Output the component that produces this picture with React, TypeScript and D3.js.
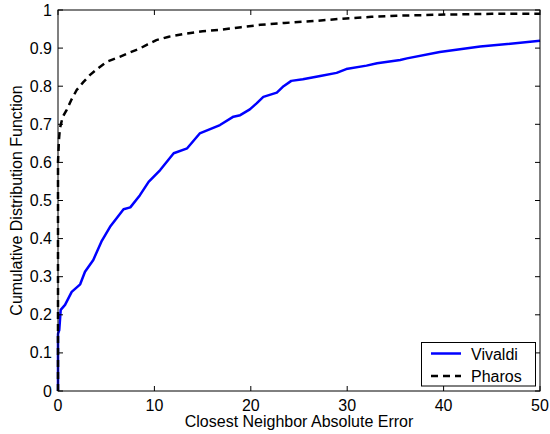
import * as d3 from "d3";

const vivaldiX = [0, 0, 0.13, 0.28, 0.73, 1.42, 2.3, 2.8, 3.66, 4.5, 5.4, 6.8, 7.5, 8.5, 9.4, 10.6, 12.0, 13.4, 14.7, 16.8, 18.2, 18.9, 19.9, 20.6, 21.3, 22.7, 23.4, 24.2, 25.4, 27.2, 28.9, 29.9, 32.0, 33.1, 35.5, 36.2, 39.6, 43.8, 50];
const vivaldiY = [0, 0.15, 0.16, 0.213, 0.226, 0.26, 0.28, 0.313, 0.344, 0.392, 0.431, 0.477, 0.482, 0.514, 0.549, 0.58, 0.624, 0.637, 0.676, 0.698, 0.72, 0.724, 0.739, 0.755, 0.772, 0.783, 0.8, 0.814, 0.818, 0.827, 0.835, 0.845, 0.854, 0.86, 0.869, 0.873, 0.89, 0.904, 0.919];

const pharosX = [0, 0, 0.1, 0.2, 0.5, 0.9, 1.4, 1.94, 2.6, 3.3, 4.2, 5.05, 6.4, 7.4, 8.5, 9.3, 10.2, 11.5, 13.0, 15, 16.8, 19, 21, 23.5, 26.5, 29.9, 32.5, 35.1, 40.3, 45, 50];
const pharosY = [0, 0.6, 0.66, 0.69, 0.72, 0.738, 0.765, 0.79, 0.81, 0.829, 0.848, 0.864, 0.877, 0.888, 0.899, 0.91, 0.921, 0.93, 0.937, 0.944, 0.948, 0.955, 0.961, 0.966, 0.971, 0.978, 0.982, 0.985, 0.988, 0.99, 0.99];

const xTicks = [0, 10, 20, 30, 40, 50];
const yTicks = [0, 0.1, 0.2, 0.3, 0.4, 0.5, 0.6, 0.7, 0.8, 0.9, 1];
const seriesNames = ["Vivaldi", "Pharos"];

const W = 550;
const H = 434;
const left = 58;
const right = 540;
const top = 10;
const bottom = 391;
const font = "'Liberation Sans', Arial, Helvetica, sans-serif";

export default function App() {
  const x = d3.scaleLinear().domain([0, 50]).range([left, right]);
  const y = d3.scaleLinear().domain([0, 1]).range([bottom, top]);

  const line = d3
    .line<[number, number]>()
    .x((d) => x(d[0]))
    .y((d) => y(d[1]));

  const vivaldi = vivaldiX.map((v, i) => [v, vivaldiY[i]] as [number, number]);
  const pharos = pharosX.map((v, i) => [v, pharosY[i]] as [number, number]);

  const tickLen = 5;

  return (
    <svg
      width={W}
      height={H}
      style={{ position: "absolute", left: 0, top: 0, background: "#fff" }}
      fontFamily={font}
    >
      <rect x={0} y={0} width={W} height={H} fill="#fff" />
      {/* data */}
      <path d={line(vivaldi) ?? ""} fill="none" stroke="#0000ff" strokeWidth={2.5} strokeLinejoin="round" />
      <path d={line(pharos) ?? ""} fill="none" stroke="#000" strokeWidth={2.5} strokeDasharray="7,5" />

      {/* box */}
      <rect x={left} y={top} width={right - left} height={bottom - top} fill="none" stroke="#000" strokeWidth={1} />

      {/* x ticks */}
      {xTicks.map((t) => (
        <g key={"x" + t}>
          <line x1={x(t)} x2={x(t)} y1={bottom} y2={bottom - tickLen} stroke="#000" />
          <line x1={x(t)} x2={x(t)} y1={top} y2={top + tickLen} stroke="#000" />
          <text x={x(t)} y={411} fontSize={16} textAnchor="middle" fill="#000">
            {t}
          </text>
        </g>
      ))}

      {/* y ticks */}
      {yTicks.map((t) => (
        <g key={"y" + t}>
          <line x1={left} x2={left + tickLen} y1={y(t)} y2={y(t)} stroke="#000" />
          <line x1={right} x2={right - tickLen} y1={y(t)} y2={y(t)} stroke="#000" />
          <text x={52} y={y(t) + 5.5} fontSize={16} textAnchor="end" fill="#000">
            {t === 0 || t === 1 ? String(t) : t.toFixed(1)}
          </text>
        </g>
      ))}

      {/* axis labels */}
      <text x={(left + right) / 2} y={427} fontSize={16} textAnchor="middle" fill="#000">
        Closest Neighbor Absolute Error
      </text>
      <text
        transform={`translate(22,${(top + bottom) / 2}) rotate(-90)`}
        fontSize={16}
        textAnchor="middle"
        fill="#000"
      >
        Cumulative Distribution Function
      </text>

      {/* legend */}
      <g>
        <rect x={421.5} y={342.5} width={114} height={43.5} fill="#fff" stroke="#000" strokeWidth={1} />
        <line x1={431} x2={461} y1={353.5} y2={353.5} stroke="#0000ff" strokeWidth={2.5} />
        <text x={471} y={359.5} fontSize={16} fill="#000">
          {seriesNames[0]}
        </text>
        <line x1={431} x2={461} y1={376} y2={376} stroke="#000" strokeWidth={2.5} strokeDasharray="7,5" />
        <text x={471} y={382} fontSize={16} fill="#000">
          {seriesNames[1]}
        </text>
      </g>
    </svg>
  );
}
